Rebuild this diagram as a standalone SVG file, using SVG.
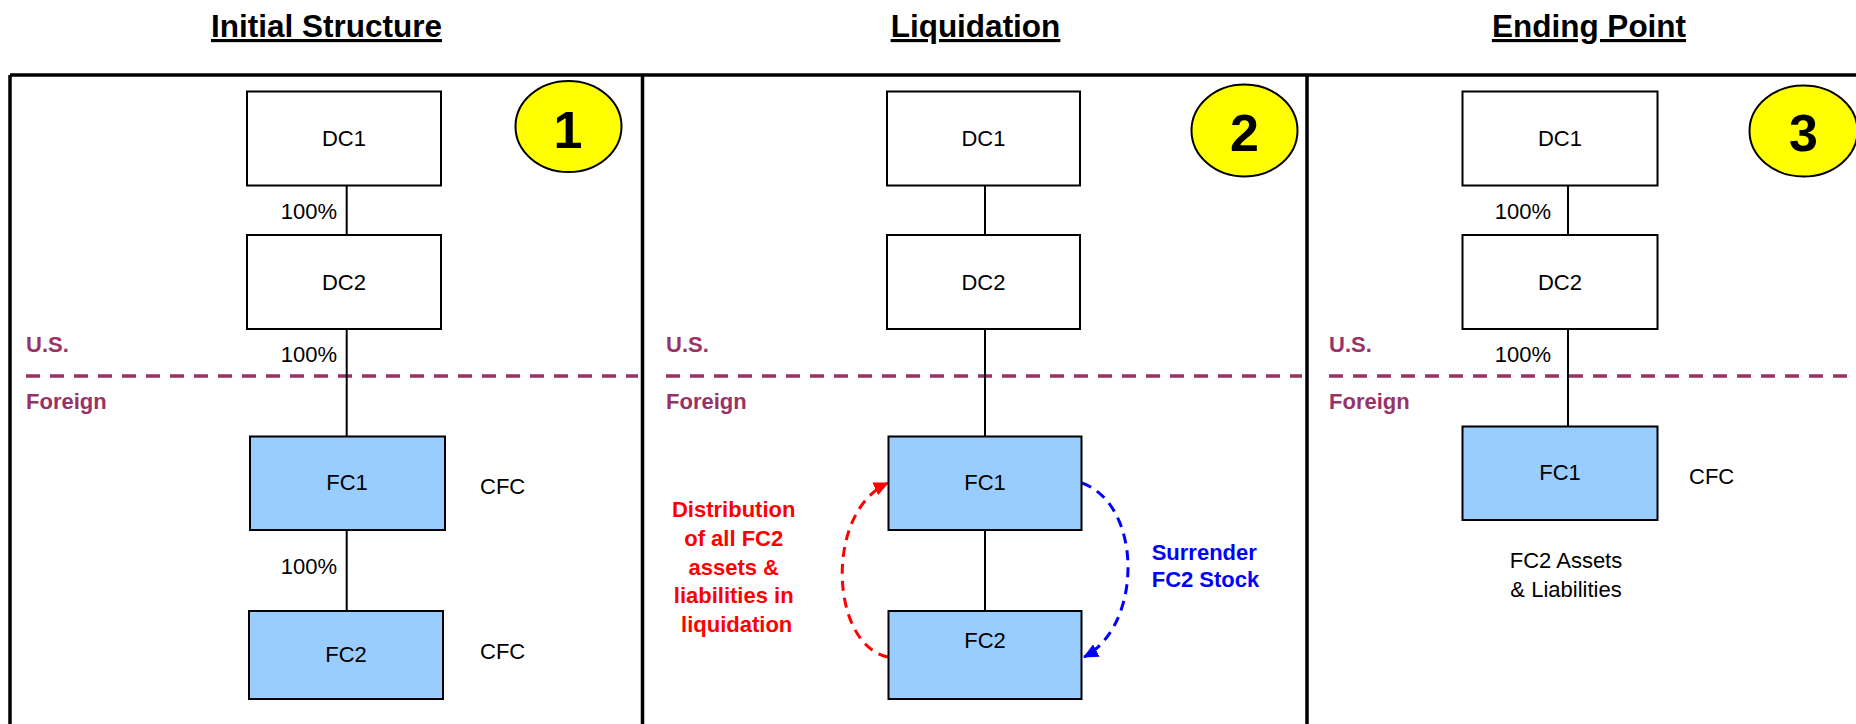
<svg xmlns="http://www.w3.org/2000/svg" width="1856" height="724" viewBox="0 0 1856 724">
<style>
text{font-family:"Liberation Sans",Arial,sans-serif}
.title{font-size:31.5px;font-weight:bold;text-anchor:middle;text-decoration:underline}
.box{fill:#FFFFFF;stroke:#000;stroke-width:2}
.fbox{fill:#99CCFF;stroke:#000;stroke-width:2}
.lbl{font-size:22px;text-anchor:middle;fill:#000}
.pct{font-size:22px;text-anchor:end;fill:#000}
.side{font-size:22px;fill:#000}
.badge{fill:#FFFF00;stroke:#000;stroke-width:2}
.num{font-size:52px;font-weight:bold;text-anchor:middle}
.region{font-size:22px;font-weight:bold;fill:#993366}
.border{fill:none;stroke:#993366;stroke-width:3.5;stroke-dasharray:14 10}
.frame{stroke:#000;stroke-width:3.5;fill:none}
.conn{stroke:#000;stroke-width:2;fill:none}
.red{font-size:22px;font-weight:bold;fill:#FF0000;text-anchor:middle}
.blue{font-size:22px;font-weight:bold;fill:#0000FF}
</style>
<defs>
<marker id="arR" markerUnits="userSpaceOnUse" markerWidth="16" markerHeight="14" refX="14" refY="7" orient="auto">
<path d="M0,0 L15,7 L0,14 z" fill="#FF0000"/>
</marker>
<marker id="arB" markerUnits="userSpaceOnUse" markerWidth="16" markerHeight="14" refX="14" refY="7" orient="auto">
<path d="M0,0 L15,7 L0,14 z" fill="#0000FF"/>
</marker>
</defs>
<rect width="1856" height="724" fill="#FFFFFF"/>

<g id="titles">
<text class="title" x="326.5" y="37">Initial Structure</text>
<text class="title" x="975.5" y="37">Liquidation</text>
<text class="title" x="1589" y="37">Ending Point</text>
</g>

<g id="frame">
<path class="frame" d="M10,75 H1860 M10,75 V730 M642.5,75 V730 M1307,75 V730"/>
</g>

<g id="borders">
<line class="border" x1="26" y1="376" x2="638" y2="376"/>
<line class="border" x1="666" y1="376" x2="1302" y2="376"/>
<line class="border" x1="1329" y1="376" x2="1856" y2="376"/>
<text class="region" x="26" y="352">U.S.</text>
<text class="region" x="26" y="408.5">Foreign</text>
<text class="region" x="666" y="352">U.S.</text>
<text class="region" x="666" y="409">Foreign</text>
<text class="region" x="1329" y="352">U.S.</text>
<text class="region" x="1329" y="409">Foreign</text>
</g>

<g id="connectors">
<line class="conn" x1="346.7" y1="185" x2="346.7" y2="235"/>
<line class="conn" x1="346.7" y1="329" x2="346.7" y2="436"/>
<line class="conn" x1="346.7" y1="530" x2="346.7" y2="611"/>
<line class="conn" x1="985" y1="185" x2="985" y2="235"/>
<line class="conn" x1="985" y1="329" x2="985" y2="436"/>
<line class="conn" x1="985" y1="530" x2="985" y2="611"/>
<line class="conn" x1="1568" y1="185" x2="1568" y2="235"/>
<line class="conn" x1="1568" y1="329" x2="1568" y2="426"/>
<path d="M888,657 C830,645 824,512 888,483" fill="none" stroke="#FF0000" stroke-width="3" stroke-dasharray="10 7" marker-end="url(#arR)"/>
<path d="M1082,483 C1143,505 1143,626 1084,657" fill="none" stroke="#0000FF" stroke-width="3" stroke-dasharray="10 7" marker-end="url(#arB)"/>
<text class="pct" x="337" y="219">100%</text>
<text class="pct" x="337" y="362">100%</text>
<text class="pct" x="337" y="574">100%</text>
<text class="pct" x="1551" y="219">100%</text>
<text class="pct" x="1551" y="362">100%</text>
</g>

<g id="p1-dc1"><rect class="box" x="247" y="91.5" width="194" height="94"/><text class="lbl" x="344" y="145.5">DC1</text></g>
<g id="p1-dc2"><rect class="box" x="247" y="235" width="194" height="94"/><text class="lbl" x="344" y="289.5">DC2</text></g>
<g id="p1-fc1"><rect class="fbox" x="250" y="436.5" width="195" height="93.5"/><text class="lbl" x="347" y="490">FC1</text><text class="side" x="480" y="493.5">CFC</text></g>
<g id="p1-fc2"><rect class="fbox" x="249" y="611" width="194" height="88"/><text class="lbl" x="346" y="662">FC2</text><text class="side" x="480" y="659">CFC</text></g>
<g id="badge1"><ellipse class="badge" cx="568.5" cy="126.5" rx="53" ry="45.5"/><text class="num" x="568" y="148">1</text></g>

<g id="p2-dc1"><rect class="box" x="887" y="91.5" width="193" height="94"/><text class="lbl" x="983.5" y="145.5">DC1</text></g>
<g id="p2-dc2"><rect class="box" x="887" y="235" width="193" height="94"/><text class="lbl" x="983.5" y="289.5">DC2</text></g>
<g id="p2-fc1"><rect class="fbox" x="888.5" y="436.5" width="193" height="93.5"/><text class="lbl" x="985" y="490">FC1</text></g>
<g id="p2-fc2"><rect class="fbox" x="888.5" y="611" width="193" height="88"/><text class="lbl" x="985" y="648">FC2</text></g>
<g id="badge2"><ellipse class="badge" cx="1244.5" cy="130.5" rx="53" ry="46"/><text class="num" x="1244.5" y="151">2</text></g>
<g id="note-red">
<text class="red" x="733.7" y="517.3">Distribution</text>
<text class="red" x="733.7" y="545.7">of all FC2</text>
<text class="red" x="733.7" y="574.7">assets &amp;</text>
<text class="red" x="733.7" y="603.3">liabilities in</text>
<text class="red" x="736.7" y="632.3">liquidation</text>
</g>
<g id="note-blue">
<text class="blue" x="1151.7" y="559.7">Surrender</text>
<text class="blue" x="1151.7" y="587.3">FC2 Stock</text>
</g>

<g id="p3-dc1"><rect class="box" x="1462.5" y="91.5" width="195" height="94"/><text class="lbl" x="1560" y="145.5">DC1</text></g>
<g id="p3-dc2"><rect class="box" x="1462.5" y="235" width="195" height="94"/><text class="lbl" x="1560" y="289.5">DC2</text></g>
<g id="p3-fc1"><rect class="fbox" x="1462.5" y="426.5" width="195" height="93.5"/><text class="lbl" x="1560" y="480">FC1</text><text class="side" x="1689" y="484">CFC</text></g>
<g id="p3-note"><text class="lbl" x="1566" y="568">FC2 Assets</text><text class="lbl" x="1566" y="596.7">&amp; Liabilities</text></g>
<g id="badge3"><ellipse class="badge" cx="1803.5" cy="131" rx="54" ry="45.5"/><text class="num" x="1803.5" y="151">3</text></g>
</svg>
